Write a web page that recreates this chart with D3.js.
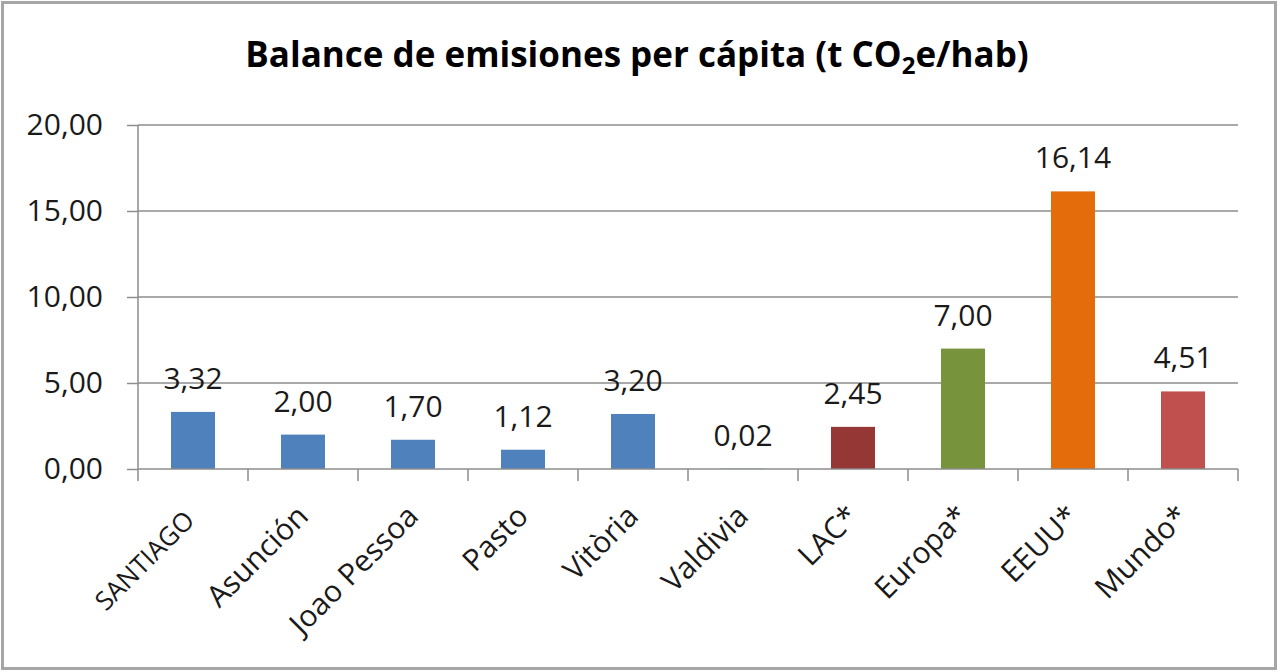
<!DOCTYPE html>
<html><head><meta charset="utf-8">
<script src="https://cdn.jsdelivr.net/npm/d3@7"></script>
<style>
html,body{margin:0;padding:0;background:#fff;}
svg{display:block;font-family:"Open Sans",sans-serif;}
</style></head>
<body><svg id="c" width="1279" height="672"></svg>
<script>
const categories = ["SANTIAGO","Asunción","Joao Pessoa","Pasto","Vitòria","Valdivia","LAC*","Europa*","EEUU*","Mundo*"];
const values = [3.32, 2.00, 1.70, 1.12, 3.20, 0.02, 2.45, 7.00, 16.14, 4.51];
const colors = ["#4F81BD","#4F81BD","#4F81BD","#4F81BD","#4F81BD","#4F81BD","#953735","#77933C","#E46C0A","#C0504D"];
const yTicks = [0, 5, 10, 15, 20];

const svg = d3.select("#c");
const W = 1279, H = 672;
const m = {left:138, right:1238, top:125, bottom:469};
const FONT = "'Open Sans', sans-serif";

svg.append("rect").attr("x",2.5).attr("y",2.5).attr("width",W-6).attr("height",H-6)
  .attr("fill","#fff").attr("stroke","#a6a6a6").attr("stroke-width",3);

const x = d3.scaleBand().domain(categories).range([m.left, m.right]).paddingInner(0.6).paddingOuter(0.3);
const y = d3.scaleLinear().domain([0,20]).range([m.bottom, m.top]);
const fmt = v => d3.format(".2f")(v).replace(".", ",");

// gridlines
svg.append("g").selectAll("line").data(yTicks.filter(d=>d>0)).join("line")
  .attr("x1", m.left).attr("x2", m.right)
  .attr("y1", d=>y(d)).attr("y2", d=>y(d))
  .attr("stroke","#8c8c8c").attr("stroke-width",1.5);

// y axis
const ya = svg.append("g").attr("transform",`translate(${m.left},0)`)
  .call(d3.axisLeft(y).tickValues(yTicks).tickSize(11).tickPadding(24).tickFormat(fmt));
ya.attr("font-family",FONT);
ya.select(".domain").attr("stroke","#8c8c8c").attr("stroke-width",1.5).attr("d",`M0,${m.top}V${m.bottom}`);
ya.selectAll(".tick line").attr("stroke","#8c8c8c").attr("stroke-width",1.5);
ya.selectAll(".tick text").attr("font-size",30).attr("fill","#1a1a1a");

// bars
svg.append("g").selectAll("rect").data(values).join("rect")
  .attr("x",(d,i)=>x(categories[i])).attr("width",x.bandwidth())
  .attr("y",d=>y(d)).attr("height",d=>y(0)-y(d))
  .attr("fill",(d,i)=>colors[i]);

// x axis
const xa = svg.append("g").attr("transform",`translate(0,${m.bottom})`)
  .call(d3.axisBottom(x).tickSize(0).tickFormat(d=>d));
xa.attr("font-family",FONT);
xa.select(".domain").remove();
const bounds = d3.range(categories.length+1).map(i=>m.left + i*(m.right-m.left)/categories.length);
svg.append("g").selectAll("line").data(bounds).join("line")
  .attr("x1",d=>d).attr("x2",d=>d).attr("y1",m.bottom).attr("y2",m.bottom+12)
  .attr("stroke","#8c8c8c").attr("stroke-width",1.5);
svg.append("line").attr("x1",m.left).attr("x2",m.right).attr("y1",m.bottom).attr("y2",m.bottom)
  .attr("stroke","#8c8c8c").attr("stroke-width",1.5);
xa.selectAll(".tick text")
  .attr("font-size",(d)=>d==="SANTIAGO"?26:30).attr("fill","#1a1a1a")
  .attr("text-anchor","end").attr("dy",0).attr("y",0)
  .attr("transform",d=>d==="SANTIAGO"?"translate(3,53) rotate(-45)":"translate(7,49) rotate(-45)");

// data labels
svg.append("g").selectAll("text").data(values).join("text")
  .attr("x",(d,i)=>x(categories[i])+x.bandwidth()/2)
  .attr("y",d=>y(d)-23)
  .attr("text-anchor","middle").attr("font-size",30).attr("fill","#1a1a1a")
  .text(d=>fmt(d));

// title
const t = svg.append("text").attr("x",637).attr("y",67).attr("text-anchor","middle")
  .attr("font-size",35).attr("font-weight","bold").attr("fill","#000");
t.append("tspan").text("Balance de emisiones per cápita (t CO");
t.append("tspan").attr("font-size",24).attr("dy",7).text("2");
t.append("tspan").attr("dy",-7).text("e/hab)");
</script></body></html>
